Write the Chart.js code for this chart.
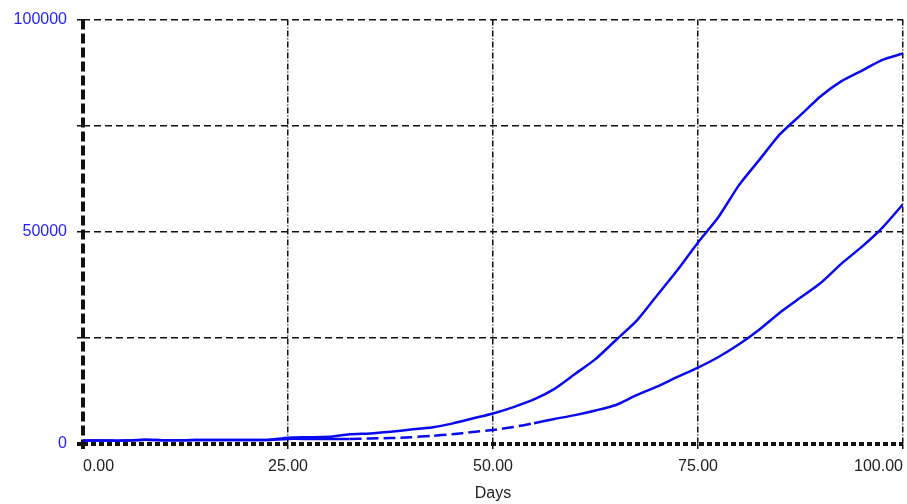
<!DOCTYPE html>
<html>
<head>
<meta charset="utf-8">
<script src="https://cdn.jsdelivr.net/npm/chart.js@4.4.0/dist/chart.umd.min.js"></script>
<style>
  html, body { margin: 0; padding: 0; background: #fff; }
  #wrap { width: 907px; height: 504px; }
</style>
</head>
<body>
<div id="wrap"><canvas id="chart"></canvas></div>
<script>
// Données
const days = [0, 2.5, 5, 7.5, 10, 12.5, 15, 17.5, 20, 22.5, 25, 27.5, 30, 32.5, 35, 37.5, 40, 42.5, 45, 47.5,
  50, 52.5, 55, 57.5, 60, 62.5, 65, 67.5, 70, 72.5, 75, 77.5, 80, 82.5, 85, 87.5, 90, 92.5, 95, 97.5, 100]
const upperValues = [800, 800, 800, 1000, 900, 900, 950, 950, 950, 950, 1500, 1600, 1700, 2300, 2500, 2900, 3400, 3900, 4800, 6000,
  7200, 8700, 10500, 13000, 16500, 20000, 24500, 29000, 35000, 41000, 47500, 53500, 61000, 67000, 73000, 77500, 82000, 85500, 88000, 90500, 92000]
const lowerValues = [800, 800, 800, 1000, 900, 900, 950, 950, 950, 950, 1200, 1200, 1200, 1200, 1300, 1400, 1600, 1900, 2300, 2800,
  3300, 4000, 4900, 5900, 6800, 7900, 9200, 11500, 13500, 15800, 18000, 20500, 23500, 27000, 31000, 34500, 38000, 42500, 46500, 51000, 56500]
const xTicks = [0, 25, 50, 75, 100]
const yLabelled = [0, 50000, 100000]

function toPoints(values) {
  return days.map((d, i) => ({ x: d, y: values[i] }))
}

const ctx = document.getElementById("chart").getContext("2d")

new Chart(ctx, {
  type: "line",
  data: {
    datasets: [
      {
        data: toPoints(upperValues),
        borderColor: "#0a0af0",
        borderWidth: 2.5,
        pointRadius: 0,
        tension: 0.2,
      },
      {
        data: toPoints(lowerValues),
        borderColor: "#0a0af0",
        borderWidth: 2.5,
        pointRadius: 0,
        tension: 0.2,
        segment: {
          borderDash: (c) => (c.p0.parsed.x >= 32.5 && c.p0.parsed.x < 55 ? [12, 5] : undefined),
        },
      },
    ],
  },
  options: {
    responsive: true,
    maintainAspectRatio: false,
    animation: false,
    layout: { padding: { top: 17, right: 4, left: 0, bottom: 0 } },
    plugins: { legend: { display: false }, tooltip: { enabled: false } },
    scales: {
      x: {
        type: "linear",
        min: 0,
        max: 100,
        afterBuildTicks: (scale) => { scale.ticks = xTicks.map((v) => ({ value: v })) },
        afterFit: (scale) => {
          scale.height = 60
          scale.paddingLeft = 0
          scale.paddingRight = 0
        },
        ticks: {
          color: "#222",
          font: { family: "Liberation Sans, Arial", size: 16 },
          padding: 8,
          align: "inner",
          maxRotation: 0,
          callback: (v) => v.toFixed(2),
        },
        grid: {
          color: "#111",
          lineWidth: (c) => (c.tick && c.tick.value === 0 ? 4 : 1.5),
          tickLength: 5,
        },
        border: {
          display: false,
          dash: (c) => (c.tick && c.tick.value === 0 ? [10, 4] : [6, 2, 1, 2]),
        },
        title: {
          display: true,
          text: "Days",
          color: "#222",
          font: { family: "Liberation Sans, Arial", size: 16 },
          padding: { top: 0, bottom: 1 },
        },
      },
      y: {
        min: 0,
        max: 100000,
        afterFit: (scale) => { scale.width = 83 },
        ticks: {
          stepSize: 25000,
          color: "#1f1fff",
          font: { family: "Liberation Sans, Arial", size: 16 },
          padding: 10,
          callback: (v) => (yLabelled.includes(v) ? String(v) : ""),
        },
        grid: {
          color: "#111",
          lineWidth: (c) => (c.tick && c.tick.value === 0 ? 4 : 1.5),
          tickLength: 6,
        },
        border: {
          display: false,
          dash: (c) => (c.tick && c.tick.value === 0 ? [5, 3] : [7, 4]),
        },
      },
    },
  },
})
</script>
</body>
</html>
